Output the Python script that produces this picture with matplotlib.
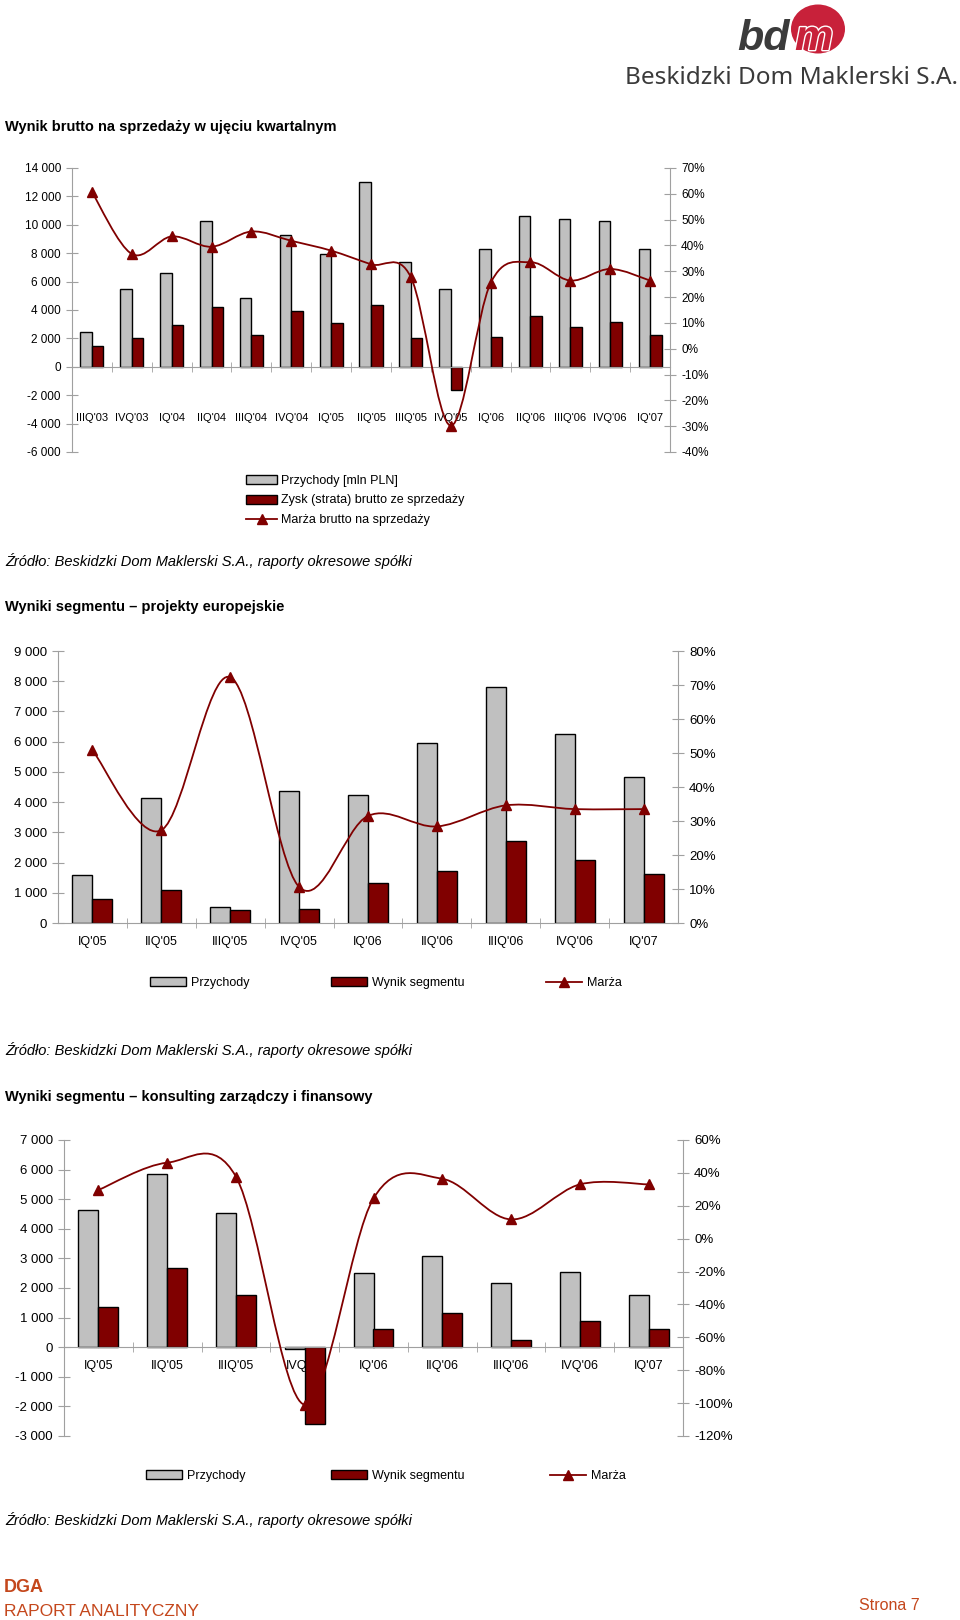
import matplotlib
matplotlib.use('Agg')
import matplotlib.pyplot as plt
import numpy as np
from matplotlib.path import Path
from matplotlib.patches import PathPatch, Patch, Ellipse
from matplotlib.lines import Line2D
import matplotlib.patheffects as pe

plt.rcParams['font.family'] = ['Liberation Sans', 'DejaVu Sans']

W, H = 960, 1620
SZARY = '#c0c0c0'
BORDO = '#800000'
OSIE = '#a0a0a0'
POMAR = '#c4471c'

# wykres 1 - wynik brutto na sprzedazy kwartalnie
kwartaly1 = ["IIIQ'03", "IVQ'03", "IQ'04", "IIQ'04", "IIIQ'04", "IVQ'04", "IQ'05", "IIQ'05",
             "IIIQ'05", "IVQ'05", "IQ'06", "IIQ'06", "IIIQ'06", "IVQ'06", "IQ'07"]
przychody1 = [2450, 5500, 6600, 10300, 4850, 9250, 7950, 13000, 7350, 5500, 8300, 10600, 10400, 10250, 8300]
zysk1 = [1480, 2040, 2960, 4180, 2230, 3940, 3050, 4340, 2040, -1640, 2110, 3610, 2790, 3190, 2210]
marza1 = [0.607, 0.367, 0.435, 0.395, 0.454, 0.418, 0.380, 0.327, 0.277, -0.298, 0.254, 0.335, 0.264, 0.309, 0.264]

# wykres 2 - projekty europejskie
kwartaly2 = ["IQ'05", "IIQ'05", "IIIQ'05", "IVQ'05", "IQ'06", "IIQ'06", "IIIQ'06", "IVQ'06", "IQ'07"]
przychody2 = [1590, 4130, 540, 4380, 4220, 5950, 7810, 6260, 4820]
wynik2 = [800, 1100, 420, 450, 1320, 1710, 2710, 2100, 1630]
marza2 = [0.508, 0.273, 0.723, 0.106, 0.315, 0.284, 0.346, 0.335, 0.335]

# wykres 3 - konsulting zarzadczy i finansowy
kwartaly3 = kwartaly2
przychody3 = [4640, 5840, 4550, -50, 2510, 3090, 2160, 2550, 1760]
wynik3 = [1360, 2690, 1760, -2600, 610, 1140, 260, 890, 610]
marza3 = [0.296, 0.462, 0.377, -1.01, 0.245, 0.364, 0.117, 0.330, 0.330]

fig = plt.figure(figsize=(9.6, 16.2), dpi=100)


def px_axes(x0, y0, x1, y1):
    return fig.add_axes([x0 / W, 1 - y1 / H, (x1 - x0) / W, (y1 - y0) / H])


def gladka_linia(ax, x, y):
    # wygladzona linia jak w Excelu (krzywe Beziera)
    x = np.asarray(x, float)
    y = np.asarray(y, float)
    n = len(x)
    verts = [(x[0], y[0])]
    codes = [Path.MOVETO]
    for i in range(n - 1):
        xa, ya = (x[i - 1], y[i - 1]) if i > 0 else (x[i], y[i])
        xb, yb = (x[i + 2], y[i + 2]) if i < n - 2 else (x[i + 1], y[i + 1])
        c1 = (x[i] + (x[i + 1] - xa) / 6, y[i] + (y[i + 1] - ya) / 6)
        c2 = (x[i + 1] - (xb - x[i]) / 6, y[i + 1] - (yb - y[i]) / 6)
        verts += [c1, c2, (x[i + 1], y[i + 1])]
        codes += [Path.CURVE4] * 3
    ax.add_patch(PathPatch(Path(verts, codes), fill=False, edgecolor=BORDO, lw=1.3))
    ax.plot(x, y, ls='none', marker='^', ms=7, color=BORDO)


def wykres(box, kat, prz, zys, mar, yticks, y2ticks, pad_x, fs_tick, fs_kat):
    ax = px_axes(*box)
    n = len(kat)
    idx = np.arange(n)
    w = 0.29
    ax.bar(idx - w / 2, prz, w, color=SZARY, edgecolor='black', lw=1.0, zorder=2)
    ax.bar(idx + w / 2, zys, w, color=BORDO, edgecolor='black', lw=1.0, zorder=2)
    ax.set_xlim(-0.5, n - 0.5)
    ax.set_ylim(yticks[0], yticks[-1])
    ax.set_yticks(yticks)
    ax.set_yticklabels([f'{v:,}'.replace(',', ' ') for v in yticks])
    ax.set_xticks(idx, kat)
    ax.set_xticks(idx[:-1] + 0.5, minor=True)
    ax.tick_params(axis='x', which='major', length=0, pad=pad_x, labelsize=fs_kat)
    ax.tick_params(axis='x', which='minor', direction='inout', length=7, color=OSIE)
    ax.tick_params(axis='y', direction='inout', length=8, color=OSIE, labelsize=fs_tick, pad=4)
    for s in ['top', 'right']:
        ax.spines[s].set_visible(False)
    ax.spines['left'].set_color(OSIE)
    ax.spines['bottom'].set_color(OSIE)
    ax.spines['bottom'].set_position(('data', 0))

    ax2 = ax.twinx()
    ax2.set_ylim(y2ticks[0], y2ticks[-1])
    ax2.set_yticks(y2ticks)
    ax2.set_yticklabels([f'{round(v * 100)}%' for v in y2ticks])
    ax2.tick_params(axis='y', direction='inout', length=8, color=OSIE, labelsize=fs_tick, pad=4)
    for s in ['top', 'left', 'bottom']:
        ax2.spines[s].set_visible(False)
    ax2.spines['right'].set_color(OSIE)
    gladka_linia(ax2, idx, mar)
    return ax, ax2


def uchwyty():
    return [Patch(facecolor=SZARY, edgecolor='black', lw=1.0),
            Patch(facecolor=BORDO, edgecolor='black', lw=1.0),
            Line2D([], [], color=BORDO, lw=1.3, marker='^', ms=7)]


ZRODLO = 'Źródło: Beskidzki Dom Maklerski S.A., raporty okresowe spółki'

# logo
fig.add_artist(Ellipse((818 / W, 1 - 29 / H), 54 / W, 49 / H, transform=fig.transFigure,
                       facecolor='#c8213a', edgecolor='none'))
fig.text(737 / W, 1 - 50 / H, 'bd', fontsize=31, weight='bold', style='italic',
         color='#3b3b3b', va='baseline')
fig.text(795 / W, 1 - 50 / H, 'm', fontsize=31, weight='bold', style='italic',
         color='#c8213a', va='baseline',
         path_effects=[pe.withStroke(linewidth=2, foreground='white')])
fig.text(958 / W, 1 - 78 / H, 'Beskidzki Dom Maklerski S.A.', fontsize=17.5, color='#3a3a3a',
         ha='right', va='center', family=['Noto Sans', 'DejaVu Sans'])

# wykres 1
fig.text(5 / W, 1 - 127 / H, 'Wynik brutto na sprzedaży w ujęciu kwartalnym',
         fontsize=10.5, weight='bold', va='center')
wykres((72, 168, 670, 452), kwartaly1, przychody1, zysk1, marza1,
       list(range(-6000, 14001, 2000)), list(np.round(np.arange(-0.4, 0.701, 0.1), 2)),
       pad_x=33, fs_tick=8.5, fs_kat=8)
fig.legend(uchwyty(), ['Przychody [mln PLN]', 'Zysk (strata) brutto ze sprzedaży',
                       'Marża brutto na sprzedaży'],
           loc='upper left', bbox_to_anchor=(246 / W, 1 - 475 / H), frameon=False,
           fontsize=9, handlelength=2.5, handleheight=0.7, handletextpad=0.3,
           labelspacing=0.6, borderaxespad=0, borderpad=0)
fig.text(5 / W, 1 - 561 / H, ZRODLO, fontsize=10.5, style='italic', va='center')

# wykres 2
fig.text(5 / W, 1 - 607 / H, 'Wyniki segmentu – projekty europejskie',
         fontsize=10.5, weight='bold', va='center')
wykres((58, 651, 678, 923), kwartaly2, przychody2, wynik2, marza2,
       list(range(0, 9001, 1000)), list(np.round(np.arange(0, 0.801, 0.1), 2)),
       pad_x=9, fs_tick=9.5, fs_kat=9)
fig.legend(uchwyty(), ['Przychody', 'Wynik segmentu', 'Marża'], ncol=3,
           loc='center left', bbox_to_anchor=(150 / W, 1 - 983 / H), frameon=False,
           fontsize=9, handlelength=2.9, handleheight=0.7, handletextpad=0.4,
           columnspacing=6.5, borderaxespad=0, borderpad=0)
fig.text(5 / W, 1 - 1050 / H, ZRODLO, fontsize=10.5, style='italic', va='center')

# wykres 3
fig.text(5 / W, 1 - 1097 / H, 'Wyniki segmentu – konsulting zarządczy i finansowy',
         fontsize=10.5, weight='bold', va='center')
wykres((64, 1140, 683, 1436), kwartaly3, przychody3, wynik3, marza3,
       list(range(-3000, 7001, 1000)), list(np.round(np.arange(-1.2, 0.601, 0.2), 2)),
       pad_x=9, fs_tick=9.5, fs_kat=9)
fig.legend(uchwyty(), ['Przychody', 'Wynik segmentu', 'Marża'], ncol=3,
           loc='center left', bbox_to_anchor=(146 / W, 1 - 1476 / H), frameon=False,
           fontsize=9, handlelength=2.9, handleheight=0.7, handletextpad=0.4,
           columnspacing=6.8, borderaxespad=0, borderpad=0)
fig.text(5 / W, 1 - 1520 / H, ZRODLO, fontsize=10.5, style='italic', va='center')

# stopka
fig.text(4 / W, 1 - 1587 / H, 'DGA', fontsize=13, weight='bold', color=POMAR, va='center')
fig.text(4 / W, 1 - 1612 / H, 'RAPORT ANALITYCZNY', fontsize=12.5, color=POMAR, va='center')
fig.text(920 / W, 1 - 1605 / H, 'Strona 7', fontsize=11.5, color=POMAR, va='center', ha='right')

fig.savefig('out.png', dpi=100)
